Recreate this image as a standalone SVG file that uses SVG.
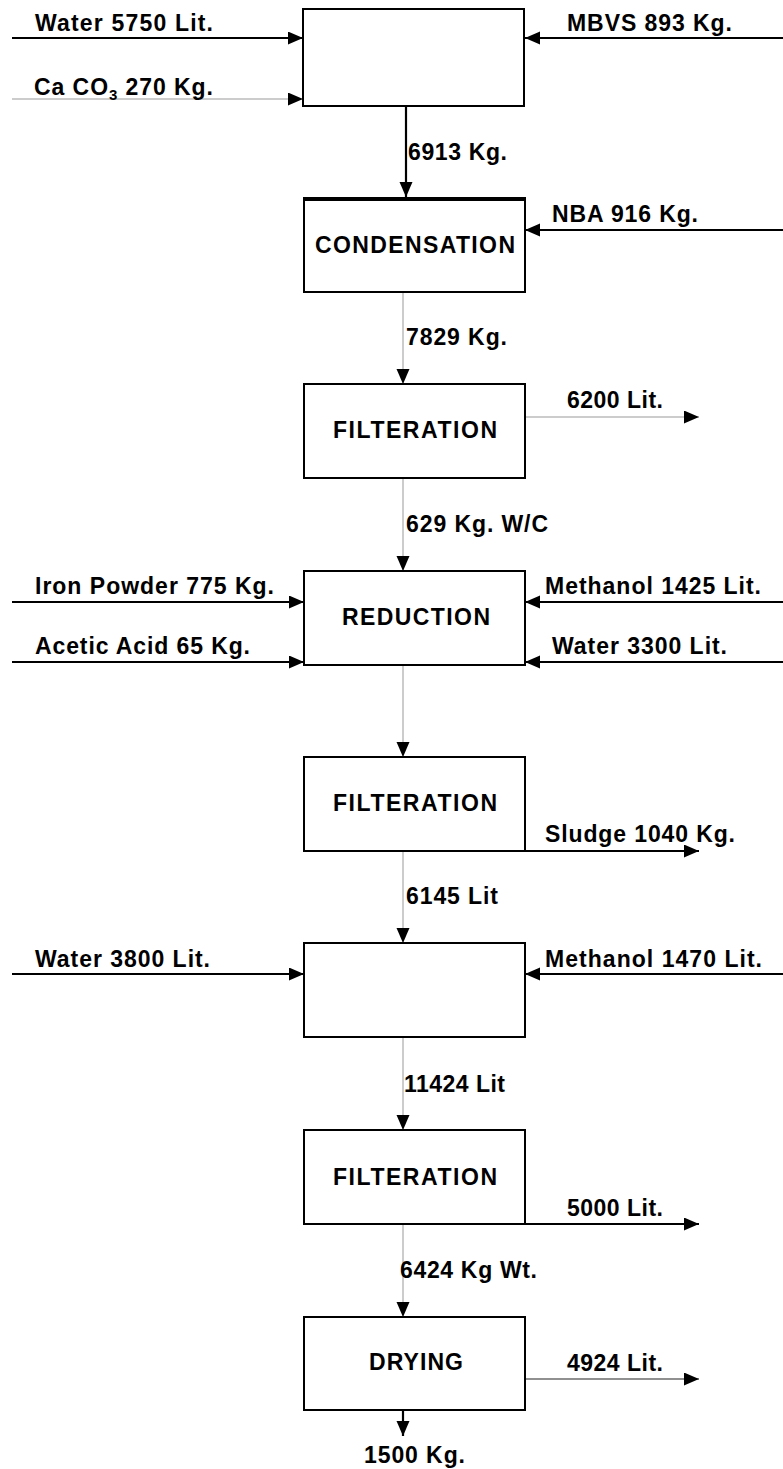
<svg xmlns="http://www.w3.org/2000/svg" width="783" height="1469" viewBox="0 0 783 1469">
<style>
.box{fill:#fff;stroke:#000;stroke-width:2}
.t{font-family:"Liberation Sans",Arial,sans-serif;font-weight:bold;font-size:23px;fill:#000}
.thick{stroke:#000;stroke-width:2.2;fill:none}
.thin{stroke:#999;stroke-width:1;fill:none}
.dark{stroke:#222;stroke-width:1.2;fill:none}
</style>
<defs>
<marker id="ah" markerUnits="userSpaceOnUse" markerWidth="16" markerHeight="14" refX="15" refY="6.5" orient="auto">
<path d="M0,0 L15,6.5 L0,13 z" fill="#000"/>
</marker>
</defs>
<g id="connectors">
<line class="thick" x1="12" y1="38" x2="303" y2="38" marker-end="url(#ah)"/>
<line class="thin" x1="12" y1="99" x2="303" y2="99" marker-end="url(#ah)"/>
<line class="thick" x1="783" y1="38" x2="525" y2="38" marker-end="url(#ah)"/>
<line class="thick" x1="406" y1="101" x2="406" y2="197" marker-end="url(#ah)"/>
<line class="thick" x1="783" y1="230" x2="525" y2="230" marker-end="url(#ah)"/>
<line class="thin" x1="403" y1="292" x2="403" y2="384" marker-end="url(#ah)"/>
<line class="thin" x1="525" y1="417" x2="699" y2="417" marker-end="url(#ah)"/>
<line class="thin" x1="403" y1="478" x2="403" y2="571" marker-end="url(#ah)"/>
<line class="thick" x1="12" y1="602" x2="304" y2="602" marker-end="url(#ah)"/>
<line class="thick" x1="12" y1="662" x2="304" y2="662" marker-end="url(#ah)"/>
<line class="thick" x1="783" y1="602" x2="525" y2="602" marker-end="url(#ah)"/>
<line class="thick" x1="783" y1="662" x2="525" y2="662" marker-end="url(#ah)"/>
<line class="thin" x1="403" y1="665" x2="403" y2="757" marker-end="url(#ah)"/>
<line class="thick" x1="525" y1="851" x2="699" y2="851" marker-end="url(#ah)"/>
<line class="thin" x1="403" y1="851" x2="403" y2="943" marker-end="url(#ah)"/>
<line class="thick" x1="12" y1="974" x2="304" y2="974" marker-end="url(#ah)"/>
<line class="thick" x1="783" y1="974" x2="525" y2="974" marker-end="url(#ah)"/>
<line class="thin" x1="403" y1="1037" x2="403" y2="1130" marker-end="url(#ah)"/>
<line class="thick" x1="525" y1="1224" x2="699" y2="1224" marker-end="url(#ah)"/>
<line class="thin" x1="403" y1="1224" x2="403" y2="1317" marker-end="url(#ah)"/>
<line class="dark" x1="525" y1="1379" x2="699" y2="1379" marker-end="url(#ah)"/>
<line class="thick" x1="403" y1="1410" x2="403" y2="1436" marker-end="url(#ah)"/>
</g>
<g id="labels">
<text class="t" x="35" y="31" textLength="178" lengthAdjust="spacing">Water 5750 Lit.</text>
<text class="t" x="34" y="95" textLength="179" lengthAdjust="spacing">Ca CO<tspan font-size="15" dy="5">3</tspan><tspan dy="-5"> 270 Kg.</tspan></text>
<text class="t" x="567" y="31" textLength="165" lengthAdjust="spacing">MBVS 893 Kg.</text>
<text class="t" x="408" y="160" textLength="99" lengthAdjust="spacing">6913 Kg.</text>
<text class="t" x="552" y="222" textLength="146" lengthAdjust="spacing">NBA 916 Kg.</text>
<text class="t" x="406" y="345" textLength="101" lengthAdjust="spacing">7829 Kg.</text>
<text class="t" x="567" y="408" textLength="96" lengthAdjust="spacing">6200 Lit.</text>
<text class="t" x="406" y="532" textLength="142" lengthAdjust="spacing">629 Kg. W/C</text>
<text class="t" x="35" y="594" textLength="239" lengthAdjust="spacing">Iron Powder 775 Kg.</text>
<text class="t" x="35" y="654" textLength="215" lengthAdjust="spacing">Acetic Acid 65 Kg.</text>
<text class="t" x="545" y="594" textLength="216" lengthAdjust="spacing">Methanol 1425 Lit.</text>
<text class="t" x="552" y="654" textLength="175" lengthAdjust="spacing">Water 3300 Lit.</text>
<text class="t" x="545" y="842" textLength="190" lengthAdjust="spacing">Sludge 1040 Kg.</text>
<text class="t" x="406" y="904" textLength="92" lengthAdjust="spacing">6145 Lit</text>
<text class="t" x="35" y="967" textLength="175" lengthAdjust="spacing">Water 3800 Lit.</text>
<text class="t" x="545" y="967" textLength="217" lengthAdjust="spacing">Methanol 1470 Lit.</text>
<text class="t" x="404" y="1092" textLength="101" lengthAdjust="spacing">11424 Lit</text>
<text class="t" x="567" y="1216" textLength="96" lengthAdjust="spacing">5000 Lit.</text>
<text class="t" x="400" y="1278" textLength="137" lengthAdjust="spacing">6424 Kg Wt.</text>
<text class="t" x="567" y="1371" textLength="96" lengthAdjust="spacing">4924 Lit.</text>
<text class="t" x="364" y="1463" textLength="101" lengthAdjust="spacing">1500 Kg.</text>
</g>
<g id="mixing1">
<rect class="box" x="303" y="9" width="221" height="97"/>
</g>
<g id="condensation">
<rect class="box" x="304" y="199" width="221" height="93"/>
<line x1="303" y1="199" x2="526" y2="199" stroke="#000" stroke-width="4"/>
<text class="t" x="315" y="253" textLength="200" lengthAdjust="spacing">CONDENSATION</text>
</g>
<g id="filteration1">
<rect class="box" x="304" y="384" width="221" height="94"/>
<text class="t" x="333" y="438" textLength="164" lengthAdjust="spacing">FILTERATION</text>
</g>
<g id="reduction">
<rect class="box" x="304" y="571" width="221" height="94"/>
<text class="t" x="342" y="625" textLength="148" lengthAdjust="spacing">REDUCTION</text>
</g>
<g id="filteration2">
<rect class="box" x="304" y="757" width="221" height="94"/>
<text class="t" x="333" y="811" textLength="164" lengthAdjust="spacing">FILTERATION</text>
</g>
<g id="mixing2">
<rect class="box" x="304" y="943" width="221" height="94"/>
</g>
<g id="filteration3">
<rect class="box" x="304" y="1130" width="221" height="94"/>
<text class="t" x="333" y="1185" textLength="164" lengthAdjust="spacing">FILTERATION</text>
</g>
<g id="drying">
<rect class="box" x="304" y="1317" width="221" height="93"/>
<text class="t" x="369" y="1370" textLength="94" lengthAdjust="spacing">DRYING</text>
</g>
</svg>
